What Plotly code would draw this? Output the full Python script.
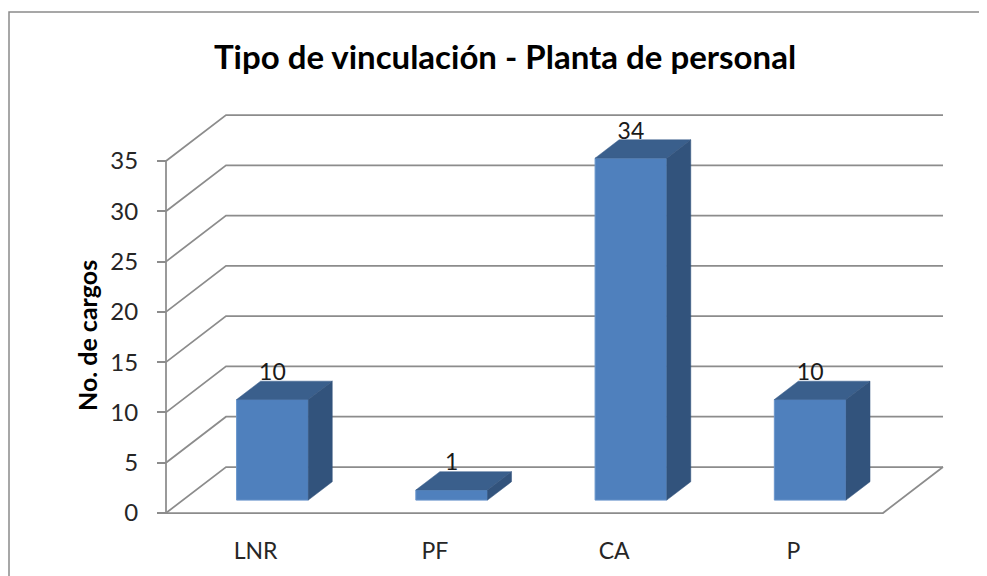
import plotly.graph_objects as go

# ---------------- data ----------------
categories = ["LNR", "PF", "CA", "P"]
values = [10, 1, 34, 10]
y_ticks = [0, 5, 10, 15, 20, 25, 30, 35]
y_max = 35
title_text = "Tipo de vinculación - Planta de personal"
y_title = "No. de cargos"

# ---------------- layout geometry (pixels, page coords minus body margin) ----------------
OFF = 8  # default body margin of the html page
W, H = 987, 576
FLOOR_LEFT_PX, FLOOR_RIGHT_PX = 166 - OFF, 883 - OFF
ZERO_PX, TOP_PX = 513 - OFF, 161 - OFF
DEPTH_DX_PX, DEPTH_DY_PX = 60, 46

n = len(categories)
px_x = (FLOOR_RIGHT_PX - FLOOR_LEFT_PX) / n
px_y = (ZERO_PX - TOP_PX) / y_max
DX = DEPTH_DX_PX / px_x
DY = DEPTH_DY_PX / px_y

x_range = [-FLOOR_LEFT_PX / px_x, (W - FLOOR_LEFT_PX) / px_x]
y_range = [-(H - ZERO_PX) / px_y, ZERO_PX / px_y]

FRONT_FRAC, BACK_FRAC = 0.28, 0.68
BAR_W = 0.4
fdx, fdy = FRONT_FRAC * DX, FRONT_FRAC * DY
bdx, bdy = (BACK_FRAC - FRONT_FRAC) * DX, (BACK_FRAC - FRONT_FRAC) * DY
LABEL_GAP = 7 / px_y

GRID = "#8C8C8C"
FRONT = "#4F80BD"
TOP = "#3A5F8C"
SIDE = "#32537C"

fig = go.Figure()

shapes = []
for t in y_ticks:
    path = f"M 0 {t} L {DX} {t + DY} L {n + DX} {t + DY}"
    shapes.append(dict(type="path", path=path, xref="x", yref="y",
                       line=dict(color=GRID, width=1.75), layer="below"))
shapes.append(dict(type="path", path=f"M 0 0 L {n} 0 L {n + DX} {DY}",
                   xref="x", yref="y", line=dict(color=GRID, width=1.75), layer="below"))
shapes.append(dict(type="line", x0=0, x1=0, y0=0, y1=y_max, xref="x", yref="y",
                   line=dict(color=GRID, width=1.75), layer="below"))
# chart border
shapes.append(dict(type="rect", xref="paper", yref="paper",
                   x0=(8 - OFF + 1) / W, x1=1.02, y0=-0.02, y1=1 - (12 - OFF) / H,
                   line=dict(color="#8A8A8A", width=1.5), fillcolor="rgba(0,0,0,0)"))

centers = [i + 0.5 + fdx for i in range(n)]

fig.add_trace(go.Bar(x=centers, y=values, base=[fdy] * n, width=BAR_W,
                     marker=dict(color=FRONT, line=dict(color="#6A96CC", width=1)),
                     showlegend=False, hoverinfo="skip"))

for c, v in zip(centers, values):
    xl, xr = c - BAR_W / 2, c + BAR_W / 2
    top = fdy + v
    fig.add_trace(go.Scatter(
        x=[xl, xr, xr + bdx, xl + bdx, xl],
        y=[top, top, top + bdy, top + bdy, top],
        fill="toself", fillcolor=TOP, mode="lines",
        line=dict(color=TOP, width=0.5), showlegend=False, hoverinfo="skip"))
    fig.add_trace(go.Scatter(
        x=[xr, xr + bdx, xr + bdx, xr, xr],
        y=[fdy, fdy + bdy, top + bdy, top, fdy],
        fill="toself", fillcolor=SIDE, mode="lines",
        line=dict(color=SIDE, width=0.5), showlegend=False, hoverinfo="skip"))

fig.add_trace(go.Scatter(
    x=centers, y=[fdy + v + bdy + LABEL_GAP for v in values],
    mode="text", text=[str(v) for v in values], textposition="middle center",
    textfont=dict(family="Lato", size=23, color="#1a1a1a"),
    cliponaxis=False, showlegend=False, hoverinfo="skip"))

fig.add_annotation(text=f"<b>{y_title}</b>", xref="paper", yref="paper",
                   x=(87 - OFF) / W, y=1 - (336 - OFF) / H, textangle=-90, showarrow=False,
                   xanchor="center", yanchor="middle",
                   font=dict(family="Lato", size=25, color="#000000"))

fig.update_layout(
    width=W, height=H,
    margin=dict(l=0, r=0, t=0, b=0),
    paper_bgcolor="white", plot_bgcolor="white",
    shapes=shapes,
    title=dict(text=f"<b>{title_text}</b>", x=(505 - OFF) / W, xanchor="center",
               y=1 - (57 - OFF) / H, yanchor="middle",
               font=dict(family="Lato", size=33, color="#000000")),
    xaxis=dict(range=x_range, tickvals=[i + 0.5 for i in range(n)], ticktext=categories,
               showgrid=False, zeroline=False, showline=False, ticks="",
               anchor="free", position=1 - ZERO_PX / H,
               ticklabelstandoff=22,
               tickfont=dict(family="Lato", size=23, color="#262626")),
    yaxis=dict(range=y_range, tickvals=y_ticks, showgrid=False, zeroline=False,
               showline=False, ticks="outside", ticklen=9, tickwidth=1.75, tickcolor=GRID,
               anchor="free", position=FLOOR_LEFT_PX / W, side="left",
               ticklabelstandoff=14,
               tickfont=dict(family="Lato", size=24, color="#262626")),
)

fig.write_html("out.html")
